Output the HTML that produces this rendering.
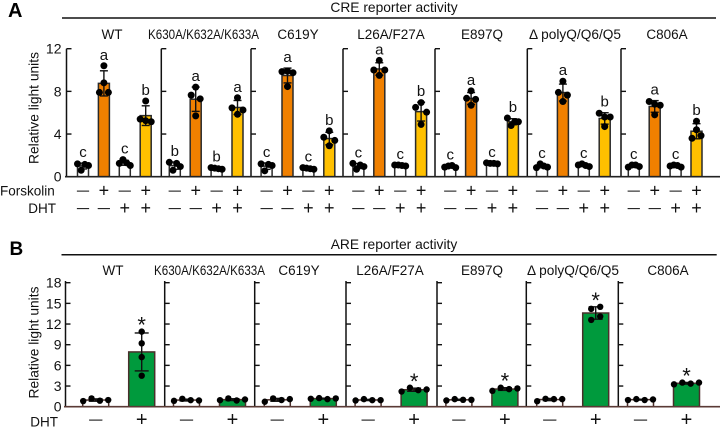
<!DOCTYPE html>
<html>
<head>
<meta charset="utf-8">
<style>
html,body{margin:0;padding:0;background:#fff;}
svg{display:block;font-family:"Liberation Sans",Arial,sans-serif;fill:#111;}
</style>
</head>
<body>
<svg id="chart" width="720" height="431" viewBox="0 0 720 431" xmlns="http://www.w3.org/2000/svg"></svg>
<script>
const variants = ['WT','K630A/K632A/K633A','C619Y','L26A/F27A','E897Q','\u0394 polyQ/Q6/Q5','C806A'];

const creTicks = [0,4,8,12];
const areTicks = [0,3,6,9,12,15,18];

const creWT    = [[1.2,0.6,1.15,1.05],[10.4,8.8,7.9,7.9],[1.25,1.6,1.3,1.05],[7.1,5.4,5.25,5.15]];
const creK630  = [[1.35,0.6,1.25,0.95],[8.4,7.65,7.3,5.7],[0.85,0.8,0.75,0.7],[7.4,6.45,5.85,6.25]];
const creC619Y = [[1.2,0.55,1.15,1.05],[9.85,9.9,9.75,8.45],[0.85,0.8,0.75,0.7],[4.3,3.7,2.9,3.4]];
const creL26A  = [[1.25,0.7,1.1,0.95],[10.9,10,9.5,10],[1.1,1.1,1.05,1.0],[6.5,6.95,6.05,4.9]];
const creE897Q = [[0.9,1.0,1.05,0.85],[8.05,7.35,6.7,7.25],[1.3,1.25,1.25,1.2],[5.5,4.8,5.15,5.15]];
const crePolyQ = [[0.85,1.2,1.0,0.9],[8.95,7.9,7.65,7.05],[1.1,1.2,1.05,0.95],[5.95,5.6,5.6,4.7]];
const creC806A = [[0.9,1.1,1.1,0.95],[7.05,6.8,6.7,5.8],[1.0,1.1,1.05,0.9],[5.2,4.4,3.6,3.85]];
const creSeries = [creWT,creK630,creC619Y,creL26A,creE897Q,crePolyQ,creC806A];

const creLetters = [['c','a','c','b'],['b','a','b','a'],['c','a','c','b'],['c','a','c','b'],['c','a','c','b'],['c','a','c','b'],['c','a','c','b']];
const forskolinSigns = ['\u2014','+','\u2014','+'];
const creDhtSigns = ['\u2014','\u2014','+','+'];

const areWT    = [[0.82,1.2,0.87,0.97],[10.9,9.2,7.2,4.5]];
const areK630  = [[0.85,1.15,0.95,0.9],[0.95,1.2,0.9,1.05]];
const areC619Y = [[0.72,1.2,0.97,1.1],[1.15,1.25,1.1,1.2]];
const areL26A  = [[0.9,1.1,0.95,0.95],[2.2,2.75,2.4,2.5]];
const areE897Q = [[0.9,1.1,1.0,1.0],[2.3,2.75,2.55,2.65]];
const arePolyQ = [[0.8,1.15,1.1,1.1],[14.2,14.5,12.6,13.1]];
const areC806A = [[0.97,1.1,0.97,1.05],[3.25,3.5,3.35,3.5]];
const areSeries = [areWT,areK630,areC619Y,areL26A,areE897Q,arePolyQ,areC806A];

const areSignificant = [true,false,false,true,true,true,true];
const areDhtSigns = ['\u2014','+'];

const svg = document.getElementById('chart');
const NS = 'http://www.w3.org/2000/svg';

function make(tag, props, text){
  const el = document.createElementNS(NS, tag);
  for (const k in props) el.setAttribute(k, props[k]);
  if (text !== undefined) el.textContent = text;
  svg.appendChild(el);
  return el;
}
function label(name, x, y, str, size, anchor, extra){
  const el = make('text', Object.assign({x:x, y:y, 'font-size':size, 'text-anchor':anchor||'middle'}, extra||{}), str);
  
  
  return el;
}
function line(name, x1, y1, x2, y2, color, width){
  const el = make('line', {x1:x1, y1:y1, x2:x2, y2:y2, stroke:color, 'stroke-width':width});
  
  
  return el;
}
function mean(a){ return a.reduce((s,v)=>s+v,0)/a.length; }
function sd(a){ const m = mean(a); return Math.sqrt(a.reduce((s,v)=>s+(v-m)*(v-m),0)/(a.length-1)); }

/* Groups nearby values and spreads them sideways in their listed order, like a column scatter plot. */
function swarm(values, threshold, spacing, maxSpan){
  const sorted = values.map((v,i)=>({v:v,i:i})).sort((a,b)=>b.v-a.v);
  const out = [];
  let bin = [];
  const flush = () => {
    bin.sort((a,b)=>a.i-b.i);
    const span = Math.min(maxSpan, spacing*(bin.length-1));
    bin.forEach((p,k)=>out.push({v:p.v, dx: bin.length>1 ? -span/2 + span*k/(bin.length-1) : 0}));
    bin = [];
  };
  sorted.forEach(p=>{
    if (bin.length && Math.min.apply(null,bin.map(b=>b.v))-p.v > threshold) flush();
    bin.push(p);
  });
  flush();
  return out;
}

function drawBar(slug, cx, values, yScale, base, width, fill, stroke, capW, threshold, maxSpan, radius){
  const m = mean(values), s = sd(values);
  const bar = make('rect', {x:cx-width/2, y:yScale(m), width:width, height:Math.max(0,base-yScale(m)), fill:fill, stroke:stroke, 'stroke-width':1.5});
  
  
  line('error-stem-'+slug, cx, yScale(m+s), cx, Math.min(base, yScale(m-s)), '#111', 1.4);
  line('error-cap-high-'+slug, cx-capW/2, yScale(m+s), cx+capW/2, yScale(m+s), '#111', 1.4);
  line('error-cap-low-'+slug, cx-capW/2, Math.min(base,yScale(m-s)), cx+capW/2, Math.min(base,yScale(m-s)), '#111', 1.4);
  swarm(values, threshold, 9, maxSpan).forEach(p=>{
    const dot = make('circle', {cx:cx+p.dx, cy:yScale(p.v), r:radius, fill:'#000'});
    
    
  });
  return {m:m, s:s, top:Math.min(yScale(Math.max.apply(null,values)), yScale(m+s))};
}

function drawAxis(slug, x, ticks, yScale, top, labelled){
  line('y-axis-'+slug, x, top, x, yScale(0), '#111', 1.5);
  ticks.forEach(t=>{
    if (t>0) line('y-tick-'+slug, x, yScale(t), x+5, yScale(t), '#111', 1.4);
    if (labelled) label('y-tick-label', 61.5, yScale(t)+5, String(t), 14, 'end');
  });
}

function variantTitle(x, y, name, i){
  const extra = i===1 ? {textLength:111, lengthAdjust:'spacingAndGlyphs'} : (i===5 ? {textLength:92, lengthAdjust:'spacingAndGlyphs'} : {});
  label('variant-title', x, y, name, 13.5, 'middle', extra);
}

function sign(name, x, centerY, str, dashSize, plusSize){
  if (str === '+') label(name, x, centerY+6, str, plusSize);
  else label(name, x, centerY+3.5, str, dashSize, 'middle', {stroke:'#111', 'stroke-width':0.25});
}

function drawCRE(){
  const base = 176.7;
  const y = v => base - v*(128/12);
  const axisX = [66.5,161.3,251,343,435,527.3,621];
  const titleX = [112,203.5,298,391,482,575,667];
  const groupX = (i,j) => 83 + 91.8*i + 20.9*j;
  const colors = ['#ffffff','#f08000','#ffffff','#ffc000'];

  label('panel-letter-a', 8, 17, 'A', 20, 'start', {'font-weight':'bold', fill:'#000'});
  label('cre-panel-title', 394, 12, 'CRE reporter activity', 13.8);
  line('cre-title-rule', 62, 18, 716, 18, '#111', 1.5);
  label('y-axis-title-cre', 0, 0, 'Relative light units', 13.8, 'middle', {transform:'translate(38.5,108) rotate(-90)'});
  label('forskolin-row-label', 0, 195.5, 'Forskolin', 13.5, 'start');
  label('dht-row-label', 56, 213, 'DHT', 13.5, 'end');

  variants.forEach((name,i)=>{
    variantTitle(titleX[i], 39, name, i);
    drawAxis('cre', axisX[i], creTicks, y, 48.7, i===0);
    creSeries[i].forEach((vals,j)=>{
      const cx = groupX(i,j);
      const r = drawBar('cre-'+i+'-'+j, cx, vals, y, base, 11, colors[j], '#2a2a2a', 8, 0.5, 11, 3.5);
      label('significance-letter', cx, r.top-6, creLetters[i][j], 15);
      sign('forskolin-sign', cx, 190.5, forskolinSigns[j], 12, 18);
      sign('dht-sign', cx, 208, creDhtSigns[j], 12, 18);
    });
  });
  line('cre-baseline', 65, base, 720, base, '#222', 1.6);
}

function drawARE(){
  const base = 406.7;
  const y = v => base - v*(124/18);
  const axisX = [65.5,164.7,254.7,346,437,526.3,618.3];
  const titleX = [113,209.5,299,390,482,573,668];
  const groupX = (i,j) => 95.7 + 90.8*i + 46*j;
  const colors = ['#ffffff','#009a3d'];

  label('panel-letter-b', 9.5, 255, 'B', 19, 'start', {'font-weight':'bold', fill:'#000'});
  label('are-panel-title', 394, 249, 'ARE reporter activity', 13.8);
  line('are-title-rule', 61.5, 254.7, 716.7, 254.7, '#111', 1.5);
  label('y-axis-title-are', 0, 0, 'Relative light units', 13.8, 'middle', {transform:'translate(38.5,342.5) rotate(-90)'});
  label('dht-row-label', 58, 426.5, 'DHT', 13.5, 'end');

  variants.forEach((name,i)=>{
    variantTitle(titleX[i], 275, name, i);
    drawAxis('are', axisX[i], areTicks, y, 281, i===0);
    areSeries[i].forEach((vals,j)=>{
      const cx = groupX(i,j);
      const r = drawBar('are-'+i+'-'+j, cx, vals, y, base, 26, colors[j], '#4a2f2b', 14, 0.7, 25, 3.2);
      sign('dht-sign', cx, 420, areDhtSigns[j], 13, 20);
      if (j===1 && areSignificant[i]) label('significance-star', cx, r.top+1, '*', 22);
    });
  });
  line('are-baseline', 64, base, 720, base, '#5a3a35', 1.6);
}

drawCRE();
drawARE();
</script>
</body>
</html>
